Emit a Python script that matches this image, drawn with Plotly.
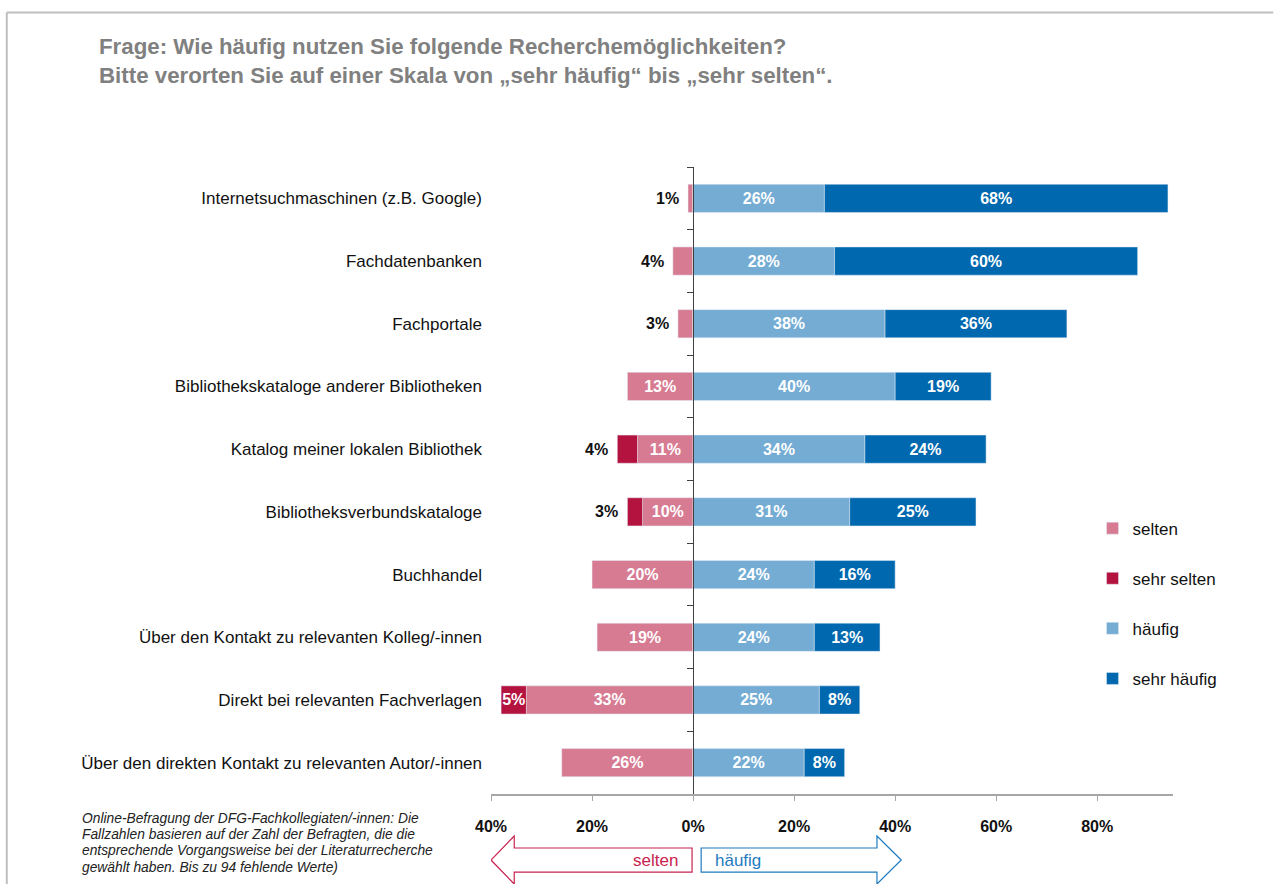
import plotly.graph_objects as go

# Antworten je Recherchemöglichkeit (in %)
categories = [
    "Internetsuchmaschinen (z.B. Google)",
    "Fachdatenbanken",
    "Fachportale",
    "Bibliothekskataloge anderer Bibliotheken",
    "Katalog meiner lokalen Bibliothek",
    "Bibliotheksverbundskataloge",
    "Buchhandel",
    "Über den Kontakt zu relevanten Kolleg/-innen",
    "Direkt bei relevanten Fachverlagen",
    "Über den direkten Kontakt zu relevanten Autor/-innen",
]
selten = [1, 4, 3, 13, 11, 10, 20, 19, 33, 26]
sehr_selten = [0, 0, 0, 0, 4, 3, 0, 0, 5, 0]
haeufig = [26, 28, 38, 40, 34, 31, 24, 24, 25, 22]
sehr_haeufig = [68, 60, 36, 19, 24, 25, 16, 13, 8, 8]

tick_vals = [-40, -20, 0, 20, 40, 60, 80]
tick_text = ["40%", "20%", "0%", "20%", "40%", "60%", "80%"]

title_lines = [
    "Frage: Wie häufig nutzen Sie folgende Recherchemöglichkeiten?",
    "Bitte verorten Sie auf einer Skala von „sehr häufig“ bis „sehr selten“.",
]
footnote_lines = [
    "Online-Befragung der DFG-Fachkollegiaten/-innen: Die",
    "Fallzahlen basieren auf der Zahl der Befragten, die die",
    "entsprechende Vorgangsweise bei der Literaturrecherche",
    "gewählt haben. Bis zu 94 fehlende Werte)",
]

FONT = "Arial, Liberation Sans, sans-serif"
C_SELTEN = "#D77B93"
C_SEHR_SELTEN = "#B5133F"
C_HAEUFIG = "#74ACD4"
C_SEHR_HAEUFIG = "#0068AE"

X_MIN, X_MAX = -40, 95
INSIDE_MIN = 5  # kleinere Segmente bekommen die Beschriftung außen
Y_RANGE = [len(categories) - 0.5, -0.5]  # oberste Kategorie oben


def inside_labels(values):
    return [f"{v}%" if v >= INSIDE_MIN else "" for v in values]


fig = go.Figure()

series = [
    ("selten", [-v for v in selten], selten, C_SELTEN),
    ("sehr selten", [-v for v in sehr_selten], sehr_selten, C_SEHR_SELTEN),
    ("häufig", haeufig, haeufig, C_HAEUFIG),
    ("sehr häufig", sehr_haeufig, sehr_haeufig, C_SEHR_HAEUFIG),
]
for name, xs, raw, color in series:
    fig.add_trace(
        go.Bar(
            name=name,
            legendgroup=name,
            x=xs,
            y=categories,
            orientation="h",
            marker_color=color,
            text=inside_labels(raw),
            textposition="inside",
            insidetextanchor="middle",
            textangle=0,
            constraintext="none",
            textfont=dict(family=FONT, size=16, color="white", weight="bold"),
            hoverinfo="skip",
        )
    )

# unsichtbare Spur, damit die Achse an der Nulllinie gezeichnet wird
fig.add_trace(
    go.Scatter(
        x=[0] * len(categories),
        y=categories,
        yaxis="y2",
        mode="markers",
        marker=dict(opacity=0),
        showlegend=False,
        hoverinfo="skip",
    )
)

# kleine Werte links außerhalb der Balken
for cat, s, ss in zip(categories, selten, sehr_selten):
    left_total = s + ss
    for v in (s, ss):
        if 0 < v < INSIDE_MIN:
            fig.add_annotation(
                x=-left_total, y=cat, xref="x", yref="y",
                text=f"<b>{v}%</b>", showarrow=False,
                xanchor="right", xshift=-7,
                font=dict(family=FONT, size=16, color="#111111"),
            )

# Pfeile unter der Achse
AY_C, AY_BODY, AY_HEAD = -0.1053, 0.0192, 0.0383
left_arrow = (
    f"M -40,{AY_C} L -35.4,{AY_C + AY_HEAD} L -35.4,{AY_C + AY_BODY} "
    f"L -0.2,{AY_C + AY_BODY} L -0.2,{AY_C - AY_BODY} L -35.4,{AY_C - AY_BODY} "
    f"L -35.4,{AY_C - AY_HEAD} Z"
)
right_arrow = (
    f"M 41.2,{AY_C} L 36.4,{AY_C + AY_HEAD} L 36.4,{AY_C + AY_BODY} "
    f"L 1.6,{AY_C + AY_BODY} L 1.6,{AY_C - AY_BODY} L 36.4,{AY_C - AY_BODY} "
    f"L 36.4,{AY_C - AY_HEAD} Z"
)
shapes = [
    dict(type="path", path=left_arrow, xref="x", yref="paper",
         line=dict(color="#C8234F", width=1.2), fillcolor="white", layer="above"),
    dict(type="path", path=right_arrow, xref="x", yref="paper",
         line=dict(color="#1F7BBF", width=1.2), fillcolor="white", layer="above"),
    # grauer Rahmen oben / links
    dict(type="line", xref="paper", yref="paper", x0=-0.710, x1=1.147, y0=1.2465, y1=1.2465,
         line=dict(color="#BFBFBF", width=2)),
    dict(type="line", xref="paper", yref="paper", x0=-0.710, x1=-0.710, y0=1.2465, y1=-0.16,
         line=dict(color="#BFBFBF", width=2)),
]

annotations = [
    dict(x=-2.6, y=AY_C, xref="x", yref="paper", text="selten", showarrow=False,
         xanchor="right", yanchor="middle", font=dict(family=FONT, size=17, color="#C8234F")),
    dict(x=4, y=AY_C, xref="x", yref="paper", text="häufig", showarrow=False,
         xanchor="left", yanchor="middle", font=dict(family=FONT, size=17, color="#1F7BBF")),
]
for i, line in enumerate(title_lines):
    annotations.append(
        dict(x=-0.5777, y=1.1914 - i * 0.0447, xref="paper", yref="paper",
             text=f"<b>{line}</b>", showarrow=False, xanchor="left", yanchor="middle",
             font=dict(family=FONT, size=22.3, color="#808080"))
    )
for i, line in enumerate(footnote_lines):
    annotations.append(
        dict(x=-0.6027, y=-0.0383 - i * 0.0263, xref="paper", yref="paper",
             text=f"<i>{line}</i>", showarrow=False, xanchor="left", yanchor="middle",
             font=dict(family=FONT, size=13.8, color="#222222"))
    )
for a in annotations:
    fig.add_annotation(**a)

fig.update_layout(
    width=1274,
    height=884,
    margin=dict(l=491, r=101, t=167, b=90),
    paper_bgcolor="white",
    plot_bgcolor="white",
    barmode="relative",
    bargap=0.55,
    font=dict(family=FONT, size=16, color="#111111"),
    shapes=shapes,
    showlegend=True,
    legend=dict(
        x=0.882, y=0.452, xanchor="left", yanchor="top",
        font=dict(family=FONT, size=17, color="#111111"),
        tracegroupgap=25,
        itemwidth=30,
        bgcolor="rgba(0,0,0,0)",
    ),
    xaxis=dict(
        range=[X_MIN, X_MAX],
        tickvals=tick_vals,
        ticktext=tick_text,
        tickfont=dict(family=FONT, size=16, color="#111111", weight="bold"),
        showgrid=False,
        zeroline=False,
        showline=True,
        linecolor="#A6A6A6",
        linewidth=1.5,
        ticks="outside",
        ticklen=5,
        tickcolor="#A6A6A6",
        ticklabelstandoff=12,
    ),
    yaxis=dict(
        type="category",
        categoryorder="array",
        categoryarray=categories,
        range=Y_RANGE,
        showgrid=False,
        zeroline=False,
        showline=False,
        ticks="",
        ticklabelstandoff=8,
        tickfont=dict(family=FONT, size=17, color="#111111"),
    ),
    yaxis2=dict(
        type="category",
        categoryorder="array",
        categoryarray=categories,
        overlaying="y",
        matches="y",
        anchor="free",
        position=(0 - X_MIN) / (X_MAX - X_MIN),
        side="left",
        showline=True,
        linecolor="#404040",
        linewidth=1,
        ticks="outside",
        tickson="boundaries",
        ticklen=6,
        tickcolor="#404040",
        showticklabels=False,
        showgrid=False,
        zeroline=False,
    ),
)

# Seitenrand des Browsers entfernen, damit die Pixelpositionen passen
fig.write_html(
    "out.html",
    config={"displayModeBar": False},
    post_script="document.body.style.margin='0';document.body.style.overflow='hidden';",
)
